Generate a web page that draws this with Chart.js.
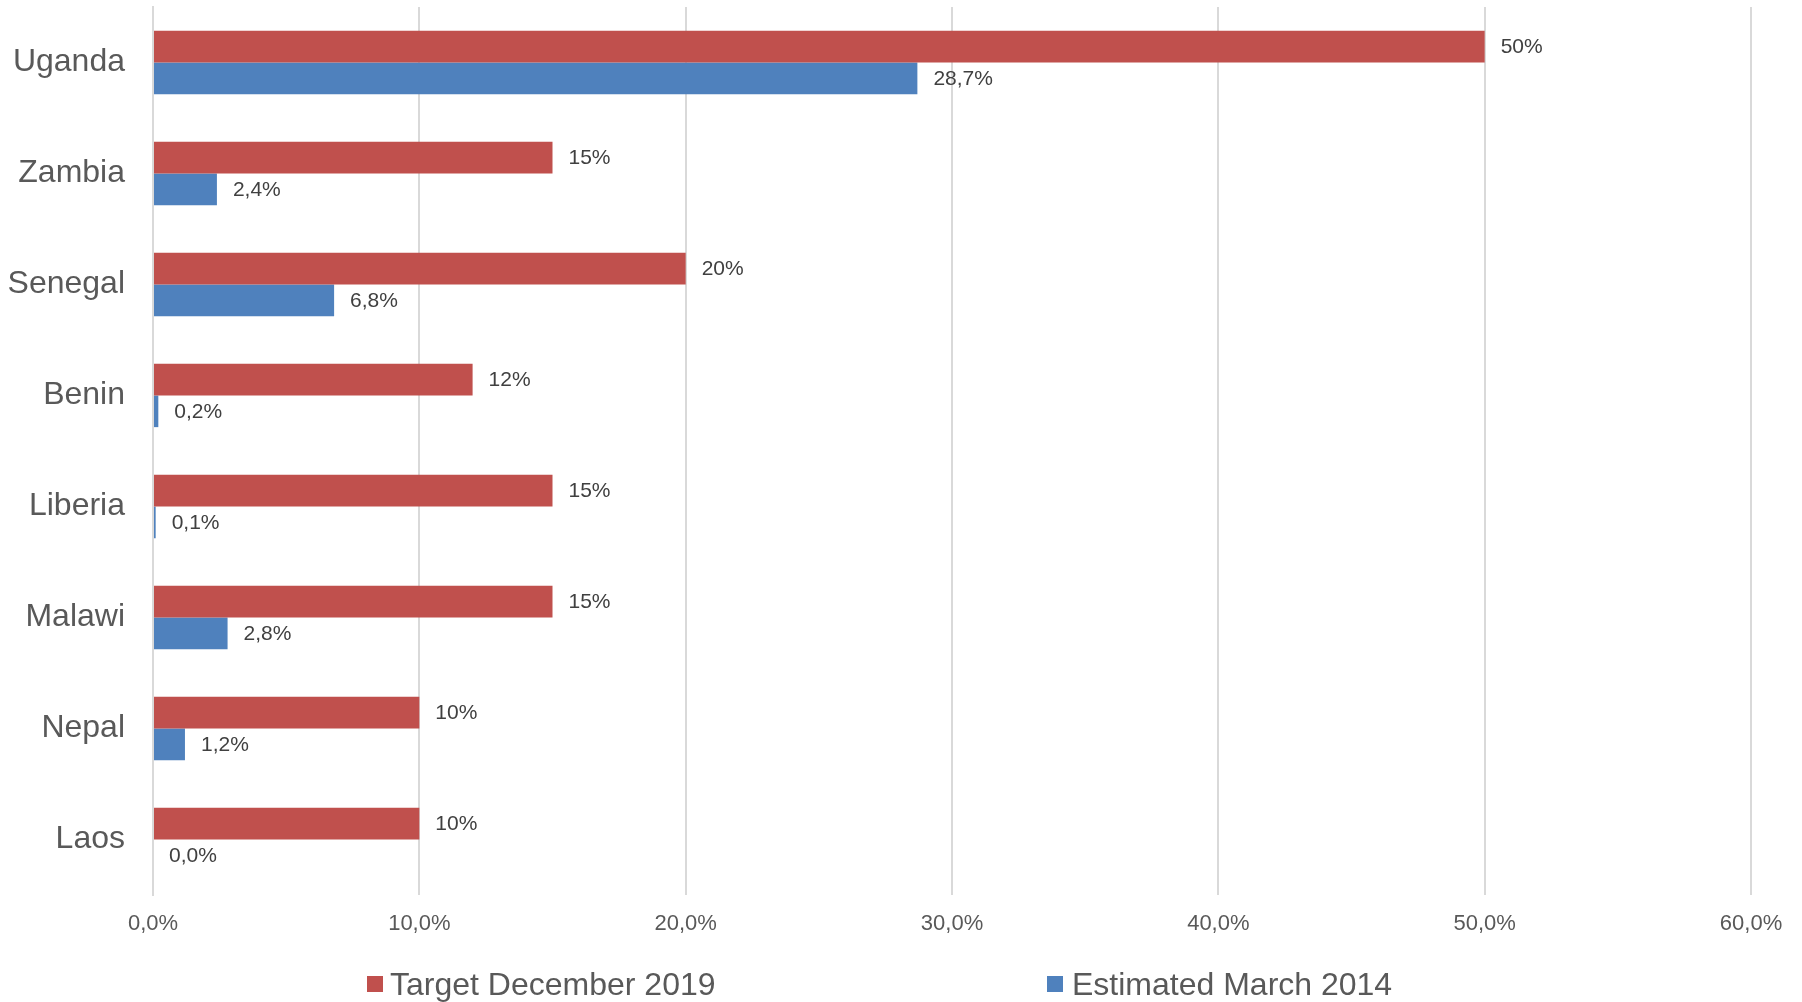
<!DOCTYPE html>
<html>
<head>
<meta charset="utf-8">
<script src="https://cdn.jsdelivr.net/npm/chart.js@4"></script>
<style>
  html, body { margin: 0; padding: 0; background: #ffffff; }
  #wrap { position: relative; width: 1802px; height: 1002px; }
  #c { position: absolute; left: 0; top: 0; }
  .legtxt { position: absolute; top: 966px; font-family: "Liberation Sans", Arial, sans-serif; font-size: 32px; color: #595959; white-space: nowrap; line-height: 37px; }
  .legbox { position: absolute; top: 976px; width: 16px; height: 16px; }
</style>
</head>
<body>
<div id="wrap">
  <canvas id="c" width="1802" height="1002"></canvas>
  <div class="legbox" style="left:367px;background:#C0504D"></div>
  <div class="legtxt" style="left:390px" id="leg0"></div>
  <div class="legbox" style="left:1047px;background:#4F81BD"></div>
  <div class="legtxt" style="left:1072px" id="leg1"></div>
</div>
<script>
const categories = ['Uganda', 'Zambia', 'Senegal', 'Benin', 'Liberia', 'Malawi', 'Nepal', 'Laos'];
const targetDec2019 = [50, 15, 20, 12, 15, 15, 10, 10];
const estimatedMar2014 = [28.7, 2.4, 6.8, 0.2, 0.1, 2.8, 1.2, 0.0];
const targetLabels = ['50%', '15%', '20%', '12%', '15%', '15%', '10%', '10%'];
const estimatedLabels = ['28,7%', '2,4%', '6,8%', '0,2%', '0,1%', '2,8%', '1,2%', '0,0%'];
const xTickLabels = ['0,0%', '10,0%', '20,0%', '30,0%', '40,0%', '50,0%', '60,0%'];
const seriesNames = ['Target December 2019', 'Estimated March 2014'];

document.getElementById('leg0').textContent = seriesNames[0];
document.getElementById('leg1').textContent = seriesNames[1];

const FONT = '"Liberation Sans", Arial, sans-serif';

const valueLabels = {
  id: 'valueLabels',
  afterDatasetsDraw(chart) {
    const ctx = chart.ctx;
    const labelSets = [targetLabels, estimatedLabels];
    ctx.save();
    ctx.font = '21px ' + FONT;
    ctx.fillStyle = '#404040';
    ctx.textAlign = 'left';
    ctx.textBaseline = 'middle';
    chart.data.datasets.forEach((ds, di) => {
      const meta = chart.getDatasetMeta(di);
      meta.data.forEach((bar, i) => {
        ctx.fillText(labelSets[di][i], bar.x + 16, bar.y + 1);
      });
    });
    ctx.restore();
  }
};

new Chart(document.getElementById('c'), {
  type: 'bar',
  data: {
    labels: categories,
    datasets: [
      { label: seriesNames[0], data: targetDec2019, backgroundColor: '#C0504D', borderWidth: 0 },
      { label: seriesNames[1], data: estimatedMar2014, backgroundColor: '#4F81BD', borderWidth: 0 }
    ]
  },
  options: {
    indexAxis: 'y',
    responsive: false,
    animation: false,
    devicePixelRatio: 1,
    layout: { padding: { top: 7, right: 51, left: 0, bottom: 0 } },
    datasets: { bar: { categoryPercentage: 0.57, barPercentage: 1.0 } },
    plugins: { legend: { display: false }, tooltip: { enabled: false } },
    scales: {
      x: {
        min: 0, max: 60,
        ticks: {
          stepSize: 10,
          padding: 16,
          color: '#595959',
          font: { family: FONT, size: 22 },
          callback: (v, i) => xTickLabels[i]
        },
        grid: { color: '#d9d9d9', lineWidth: 2, drawTicks: false },
        border: { display: false },
        afterFit: s => { s.height = 107; s.paddingLeft = 0; s.paddingRight = 0; }
      },
      y: {
        ticks: {
          padding: 28,
          color: '#595959',
          font: { family: FONT, size: 32 }
        },
        grid: { display: false, drawTicks: false },
        border: { display: true, color: '#d9d9d9', width: 2 },
        afterFit: s => { s.width = 153; s.paddingTop = 0; s.paddingBottom = 0; }
      }
    }
  },
  plugins: [valueLabels]
});
</script>
</body>
</html>
